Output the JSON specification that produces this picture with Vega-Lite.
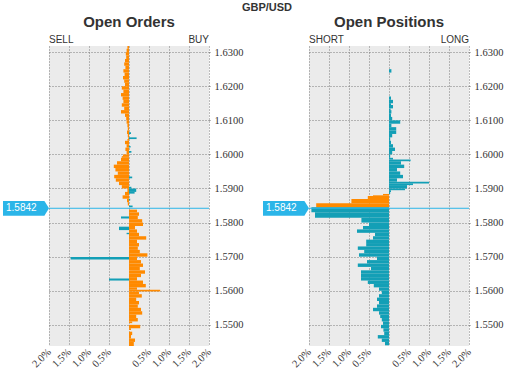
{
  "$schema": "https://vega.github.io/schema/vega-lite/v6.json",
  "padding": {"left": 3, "top": 2, "right": 5, "bottom": 0},
  "background": "white",
  "title": {"text": "GBP/USD", "fontSize": 11, "fontWeight": "bold", "font": "Liberation Sans", "color": "#333333", "anchor": "middle", "offset": 2, "dx": 14},
  "datasets": {
    "orders": [
      {"lo":1.6310,"hi":1.6318,"v":-0.04,"c":"o"},{"lo":1.6300,"hi":1.6310,"v":-0.06,"c":"o"},{"lo":1.6290,"hi":1.6300,"v":-0.08,"c":"o"},{"lo":1.6280,"hi":1.6290,"v":-0.07,"c":"o"},
      {"lo":1.6270,"hi":1.6280,"v":-0.10,"c":"o"},{"lo":1.6260,"hi":1.6270,"v":-0.12,"c":"o"},{"lo":1.6250,"hi":1.6260,"v":-0.09,"c":"o"},{"lo":1.6240,"hi":1.6250,"v":-0.14,"c":"o"},
      {"lo":1.6230,"hi":1.6240,"v":-0.11,"c":"o"},{"lo":1.6220,"hi":1.6230,"v":-0.15,"c":"o"},{"lo":1.6210,"hi":1.6220,"v":-0.12,"c":"o"},{"lo":1.6200,"hi":1.6210,"v":-0.10,"c":"o"},
      {"lo":1.6190,"hi":1.6200,"v":-0.18,"c":"o"},{"lo":1.6180,"hi":1.6190,"v":-0.14,"c":"o"},{"lo":1.6170,"hi":1.6180,"v":-0.20,"c":"o"},{"lo":1.6160,"hi":1.6170,"v":-0.16,"c":"o"},
      {"lo":1.6150,"hi":1.6160,"v":-0.14,"c":"o"},{"lo":1.6140,"hi":1.6150,"v":-0.18,"c":"o"},{"lo":1.6130,"hi":1.6140,"v":-0.12,"c":"o"},{"lo":1.6120,"hi":1.6130,"v":-0.20,"c":"o"},
      {"lo":1.6110,"hi":1.6120,"v":-0.10,"c":"o"},{"lo":1.6100,"hi":1.6110,"v":-0.07,"c":"o"},{"lo":1.6090,"hi":1.6100,"v":-0.06,"c":"o"},{"lo":1.6080,"hi":1.6090,"v":-0.04,"c":"o"},
      {"lo":1.6070,"hi":1.6080,"v":-0.03,"c":"o"},{"lo":1.6060,"hi":1.6070,"v":-0.05,"c":"o"},{"lo":1.6050,"hi":1.6060,"v":-0.03,"c":"o"},{"lo":1.6045,"hi":1.6050,"v":-0.02,"c":"o"},
      {"lo":1.6040,"hi":1.6045,"v":-0.04,"c":"o"},{"lo":1.6030,"hi":1.6040,"v":-0.10,"c":"o"},{"lo":1.6020,"hi":1.6030,"v":-0.06,"c":"o"},{"lo":1.6010,"hi":1.6020,"v":-0.09,"c":"o"},
      {"lo":1.6000,"hi":1.6010,"v":-0.06,"c":"o"},{"lo":1.5995,"hi":1.6000,"v":-0.15,"c":"o"},{"lo":1.5990,"hi":1.5995,"v":-0.18,"c":"o"},{"lo":1.5980,"hi":1.5990,"v":-0.20,"c":"o"},
      {"lo":1.5970,"hi":1.5980,"v":-0.30,"c":"o"},{"lo":1.5960,"hi":1.5970,"v":-0.38,"c":"o"},{"lo":1.5950,"hi":1.5960,"v":-0.34,"c":"o"},{"lo":1.5940,"hi":1.5950,"v":-0.28,"c":"o"},
      {"lo":1.5930,"hi":1.5940,"v":-0.37,"c":"o"},{"lo":1.5920,"hi":1.5930,"v":-0.33,"c":"o"},{"lo":1.5910,"hi":1.5920,"v":-0.25,"c":"o"},{"lo":1.5900,"hi":1.5910,"v":-0.18,"c":"o"},
      {"lo":1.5890,"hi":1.5900,"v":-0.04,"c":"o"},{"lo":1.5880,"hi":1.5890,"v":-0.10,"c":"o"},{"lo":1.5870,"hi":1.5880,"v":-0.16,"c":"o"},{"lo":1.5860,"hi":1.5870,"v":-0.05,"c":"o"},
      {"lo":1.5850,"hi":1.5860,"v":-0.03,"c":"o"},
      {"lo":1.6060,"hi":1.6065,"v":0.05,"c":"t"},{"lo":1.6045,"hi":1.6050,"v":0.19,"c":"t"},{"lo":1.6020,"hi":1.6025,"v":0.04,"c":"t"},{"lo":1.6005,"hi":1.6010,"v":0.06,"c":"t"},
      {"lo":1.5930,"hi":1.5935,"v":0.08,"c":"t"},{"lo":1.5900,"hi":1.5905,"v":0.06,"c":"t"},{"lo":1.5890,"hi":1.5900,"v":0.18,"c":"t"},{"lo":1.5885,"hi":1.5890,"v":0.14,"c":"t"},
      {"lo":1.5865,"hi":1.5870,"v":0.03,"c":"t"},{"lo":1.5845,"hi":1.5850,"v":0.09,"c":"t"},
      {"lo":1.5830,"hi":1.5838,"v":0.20,"c":"o"},{"lo":1.5820,"hi":1.5830,"v":0.25,"c":"o"},{"lo":1.5810,"hi":1.5820,"v":0.22,"c":"o"},{"lo":1.5800,"hi":1.5810,"v":0.33,"c":"o"},
      {"lo":1.5790,"hi":1.5800,"v":0.35,"c":"o"},{"lo":1.5780,"hi":1.5790,"v":0.15,"c":"o"},{"lo":1.5770,"hi":1.5780,"v":0.20,"c":"o"},{"lo":1.5760,"hi":1.5770,"v":0.25,"c":"o"},
      {"lo":1.5750,"hi":1.5760,"v":0.43,"c":"o"},{"lo":1.5740,"hi":1.5750,"v":0.20,"c":"o"},{"lo":1.5730,"hi":1.5740,"v":0.25,"c":"o"},{"lo":1.5720,"hi":1.5730,"v":0.22,"c":"o"},
      {"lo":1.5710,"hi":1.5720,"v":0.27,"c":"o"},{"lo":1.5700,"hi":1.5710,"v":0.46,"c":"o"},{"lo":1.5690,"hi":1.5700,"v":0.20,"c":"o"},{"lo":1.5680,"hi":1.5690,"v":0.30,"c":"o"},
      {"lo":1.5670,"hi":1.5680,"v":0.35,"c":"o"},{"lo":1.5660,"hi":1.5670,"v":0.27,"c":"o"},{"lo":1.5650,"hi":1.5660,"v":0.40,"c":"o"},{"lo":1.5640,"hi":1.5650,"v":0.30,"c":"o"},
      {"lo":1.5630,"hi":1.5640,"v":0.20,"c":"o"},{"lo":1.5620,"hi":1.5630,"v":0.35,"c":"o"},{"lo":1.5610,"hi":1.5620,"v":0.42,"c":"o"},{"lo":1.5603,"hi":1.5610,"v":0.20,"c":"o"},
      {"lo":1.5598,"hi":1.5603,"v":0.78,"c":"o"},{"lo":1.5590,"hi":1.5598,"v":0.25,"c":"o"},{"lo":1.5580,"hi":1.5590,"v":0.32,"c":"o"},{"lo":1.5570,"hi":1.5580,"v":0.18,"c":"o"},
      {"lo":1.5560,"hi":1.5570,"v":0.25,"c":"o"},{"lo":1.5550,"hi":1.5560,"v":0.22,"c":"o"},{"lo":1.5540,"hi":1.5550,"v":0.30,"c":"o"},{"lo":1.5530,"hi":1.5540,"v":0.33,"c":"o"},
      {"lo":1.5520,"hi":1.5530,"v":0.18,"c":"o"},{"lo":1.5510,"hi":1.5520,"v":0.22,"c":"o"},{"lo":1.5505,"hi":1.5510,"v":0.08,"c":"o"},{"lo":1.5490,"hi":1.5500,"v":0.28,"c":"o"},
      {"lo":1.5485,"hi":1.5490,"v":0.05,"c":"o"},{"lo":1.5470,"hi":1.5480,"v":0.08,"c":"o"},{"lo":1.5460,"hi":1.5470,"v":0.05,"c":"o"},{"lo":1.5450,"hi":1.5460,"v":0.15,"c":"o"},
      {"lo":1.5438,"hi":1.5450,"v":0.12,"c":"o"},
      {"lo":1.5812,"hi":1.5818,"v":-0.20,"c":"t"},{"lo":1.5778,"hi":1.5788,"v":-0.25,"c":"t"},{"lo":1.5766,"hi":1.5770,"v":-0.06,"c":"t"},{"lo":1.5692,"hi":1.5699,"v":-1.46,"c":"t"},
      {"lo":1.5630,"hi":1.5636,"v":-0.50,"c":"t"}
    ],
    "positions": [
      {"lo":1.6240,"hi":1.6250,"v":0.06,"c":"t"},
      {"lo":1.6160,"hi":1.6170,"v":0.05,"c":"t"},{"lo":1.6150,"hi":1.6160,"v":0.10,"c":"t"},{"lo":1.6145,"hi":1.6150,"v":0.05,"c":"t"},{"lo":1.6135,"hi":1.6145,"v":0.10,"c":"t"},
      {"lo":1.6130,"hi":1.6135,"v":0.04,"c":"t"},{"lo":1.6120,"hi":1.6130,"v":0.06,"c":"t"},{"lo":1.6110,"hi":1.6120,"v":0.05,"c":"t"},{"lo":1.6100,"hi":1.6110,"v":0.08,"c":"t"},
      {"lo":1.6090,"hi":1.6100,"v":0.28,"c":"t"},{"lo":1.6080,"hi":1.6090,"v":0.06,"c":"t"},{"lo":1.6070,"hi":1.6080,"v":0.18,"c":"t"},{"lo":1.6060,"hi":1.6070,"v":0.18,"c":"t"},
      {"lo":1.6050,"hi":1.6060,"v":0.08,"c":"t"},{"lo":1.6040,"hi":1.6050,"v":0.03,"c":"t"},{"lo":1.6030,"hi":1.6040,"v":0.05,"c":"t"},{"lo":1.6020,"hi":1.6030,"v":0.10,"c":"t"},
      {"lo":1.6010,"hi":1.6020,"v":0.15,"c":"t"},{"lo":1.6000,"hi":1.6010,"v":0.08,"c":"t"},{"lo":1.5990,"hi":1.6000,"v":0.03,"c":"t"},{"lo":1.5985,"hi":1.5990,"v":0.10,"c":"t"},
      {"lo":1.5980,"hi":1.5985,"v":0.54,"c":"t"},{"lo":1.5970,"hi":1.5980,"v":0.30,"c":"t"},{"lo":1.5960,"hi":1.5970,"v":0.38,"c":"t"},{"lo":1.5950,"hi":1.5960,"v":0.20,"c":"t"},
      {"lo":1.5940,"hi":1.5950,"v":0.28,"c":"t"},{"lo":1.5930,"hi":1.5940,"v":0.35,"c":"t"},{"lo":1.5920,"hi":1.5930,"v":0.20,"c":"t"},{"lo":1.5915,"hi":1.5920,"v":1.00,"c":"t"},
      {"lo":1.5910,"hi":1.5915,"v":0.60,"c":"t"},{"lo":1.5900,"hi":1.5910,"v":0.45,"c":"t"},{"lo":1.5895,"hi":1.5900,"v":0.40,"c":"t"},{"lo":1.5890,"hi":1.5895,"v":0.05,"c":"t"},
      {"lo":1.5884,"hi":1.5890,"v":0.03,"c":"t"},
      {"lo":1.5880,"hi":1.5884,"v":-0.15,"c":"o"},{"lo":1.5878,"hi":1.5880,"v":-0.40,"c":"o"},{"lo":1.5869,"hi":1.5878,"v":-0.53,"c":"o"},{"lo":1.5857,"hi":1.5869,"v":-0.94,"c":"o"},
      {"lo":1.5845,"hi":1.5857,"v":-1.82,"c":"o"},
      {"lo":1.5830,"hi":1.5845,"v":-1.94,"c":"t"},{"lo":1.5814,"hi":1.5830,"v":-1.85,"c":"t"},{"lo":1.5800,"hi":1.5814,"v":-0.69,"c":"t"},{"lo":1.5790,"hi":1.5800,"v":-0.50,"c":"t"},
      {"lo":1.5780,"hi":1.5790,"v":-0.65,"c":"t"},{"lo":1.5770,"hi":1.5780,"v":-0.80,"c":"t"},{"lo":1.5760,"hi":1.5770,"v":-0.35,"c":"t"},{"lo":1.5750,"hi":1.5760,"v":-0.40,"c":"t"},
      {"lo":1.5740,"hi":1.5750,"v":-0.57,"c":"t"},{"lo":1.5730,"hi":1.5740,"v":-0.57,"c":"t"},{"lo":1.5720,"hi":1.5730,"v":-0.78,"c":"t"},{"lo":1.5710,"hi":1.5720,"v":-0.62,"c":"t"},
      {"lo":1.5700,"hi":1.5710,"v":-0.75,"c":"t"},{"lo":1.5690,"hi":1.5700,"v":-0.30,"c":"t"},{"lo":1.5680,"hi":1.5690,"v":-0.55,"c":"t"},{"lo":1.5670,"hi":1.5680,"v":-0.78,"c":"t"},
      {"lo":1.5660,"hi":1.5670,"v":-0.45,"c":"t"},{"lo":1.5650,"hi":1.5660,"v":-0.70,"c":"t"},{"lo":1.5640,"hi":1.5650,"v":-0.70,"c":"t"},{"lo":1.5630,"hi":1.5640,"v":-0.70,"c":"t"},
      {"lo":1.5620,"hi":1.5630,"v":-0.53,"c":"t"},{"lo":1.5610,"hi":1.5620,"v":-0.38,"c":"t"},{"lo":1.5600,"hi":1.5610,"v":-0.25,"c":"t"},{"lo":1.5590,"hi":1.5600,"v":-0.18,"c":"t"},
      {"lo":1.5580,"hi":1.5590,"v":-0.25,"c":"t"},{"lo":1.5570,"hi":1.5580,"v":-0.30,"c":"t"},{"lo":1.5560,"hi":1.5570,"v":-0.25,"c":"t"},{"lo":1.5550,"hi":1.5560,"v":-0.30,"c":"t"},
      {"lo":1.5540,"hi":1.5550,"v":-0.40,"c":"t"},{"lo":1.5530,"hi":1.5540,"v":-0.25,"c":"t"},{"lo":1.5520,"hi":1.5530,"v":-0.22,"c":"t"},{"lo":1.5510,"hi":1.5520,"v":-0.18,"c":"t"},
      {"lo":1.5500,"hi":1.5510,"v":-0.15,"c":"t"},{"lo":1.5490,"hi":1.5500,"v":-0.20,"c":"t"},{"lo":1.5480,"hi":1.5490,"v":-0.14,"c":"t"},{"lo":1.5470,"hi":1.5480,"v":-0.12,"c":"t"},
      {"lo":1.5460,"hi":1.5470,"v":-0.28,"c":"t"},{"lo":1.5450,"hi":1.5460,"v":-0.18,"c":"t"},{"lo":1.5440,"hi":1.5450,"v":-0.10,"c":"t"}
    ]
  },
  "spacing": 100,
  "bounds": "flush",
  "hconcat": [
    {
      "width": 160, "height": 300,
      "title": {"text": "Open Orders", "fontSize": 15, "fontWeight": "bold", "font": "Liberation Sans", "color": "#333333", "frame": "group", "anchor": "middle", "offset": 5},
      "layer": [
        {
          "data": {"name": "orders"},
          "mark": {"type": "bar"},
          "encoding": {
            "x": {"field": "v", "type": "quantitative", "scale": {"domain": [-2, 2], "nice": false},
                  "axis": {"title": null, "values": [-2, -1.5, -1, -0.5, 0, 0.5, 1, 1.5, 2], "tickCount": 20, "labelExpr": "datum.value == 0 ? '' : format(abs(datum.value), '.1f') + '%'", "labelAngle": -45, "labelAlign": "right", "labelBaseline": "middle", "domain": false, "ticks": false, "labelPadding": 4, "labelOverlap": false, "labelBound": false}},
            "x2": {"datum": 0},
            "y": {"field": "lo", "type": "quantitative", "scale": {"domain": [1.5438, 1.6318], "nice": false, "zero": false},
                  "axis": {"title": null, "orient": "right", "values": [1.55, 1.56, 1.57, 1.58, 1.59, 1.6, 1.61, 1.62, 1.63], "tickCount": 20, "format": ".4f", "domain": false, "labelOverlap": false, "labelBound": false}},
            "y2": {"field": "hi"},
            "color": {"field": "c", "type": "nominal", "scale": {"domain": ["o", "t"], "range": ["#FF8A00", "#139FB6"]}, "legend": null}
          }
        },
        {
          "data": {"values": [{}]},
          "mark": {"type": "rule", "color": "#2BB5E8", "strokeWidth": 1},
          "encoding": {"y": {"datum": 1.5842, "type": "quantitative"}}
        },
        {
          "data": {"values": [{}]},
          "mark": {"type": "point", "shape": "M0,0L-0.1,-0.16L-1,-0.16L-1,0.16L-0.1,0.16Z", "filled": true, "size": 8464, "color": "#2BB5E8", "opacity": 1, "strokeWidth": 0},
          "encoding": {"x": {"datum": -2, "type": "quantitative"}, "y": {"datum": 1.5842, "type": "quantitative"}}
        },
        {
          "data": {"values": [{}]},
          "mark": {"type": "text", "text": "1.5842", "align": "left", "baseline": "middle", "dx": -43, "color": "white", "fontSize": 10, "font": "Liberation Sans"},
          "encoding": {"x": {"datum": -2, "type": "quantitative"}, "y": {"datum": 1.5842, "type": "quantitative"}}
        },
        {
          "data": {"values": [{}]},
          "mark": {"type": "text", "text": "SELL", "align": "left", "baseline": "alphabetic", "dy": -3, "color": "#333333", "fontSize": 10, "font": "Liberation Sans"},
          "encoding": {"x": {"datum": -2, "type": "quantitative"}, "y": {"datum": 1.6318, "type": "quantitative"}}
        },
        {
          "data": {"values": [{}]},
          "mark": {"type": "text", "text": "BUY", "align": "right", "baseline": "alphabetic", "dy": -3, "color": "#333333", "fontSize": 10, "font": "Liberation Sans"},
          "encoding": {"x": {"datum": 2, "type": "quantitative"}, "y": {"datum": 1.6318, "type": "quantitative"}}
        }
      ]
    },
    {
      "width": 160, "height": 300,
      "title": {"text": "Open Positions", "fontSize": 15, "fontWeight": "bold", "font": "Liberation Sans", "color": "#333333", "frame": "group", "anchor": "middle", "offset": 5},
      "layer": [
        {
          "data": {"name": "positions"},
          "mark": {"type": "bar"},
          "encoding": {
            "x": {"field": "v", "type": "quantitative", "scale": {"domain": [-2, 2], "nice": false},
                  "axis": {"title": null, "values": [-2, -1.5, -1, -0.5, 0, 0.5, 1, 1.5, 2], "tickCount": 20, "labelExpr": "datum.value == 0 ? '' : format(abs(datum.value), '.1f') + '%'", "labelAngle": -45, "labelAlign": "right", "labelBaseline": "middle", "domain": false, "ticks": false, "labelPadding": 4, "labelOverlap": false, "labelBound": false}},
            "x2": {"datum": 0},
            "y": {"field": "lo", "type": "quantitative", "scale": {"domain": [1.5438, 1.6318], "nice": false, "zero": false},
                  "axis": {"title": null, "orient": "right", "values": [1.55, 1.56, 1.57, 1.58, 1.59, 1.6, 1.61, 1.62, 1.63], "tickCount": 20, "format": ".4f", "domain": false, "labelOverlap": false, "labelBound": false}},
            "y2": {"field": "hi"},
            "color": {"field": "c", "type": "nominal", "scale": {"domain": ["o", "t"], "range": ["#FF8A00", "#139FB6"]}, "legend": null}
          }
        },
        {
          "data": {"values": [{}]},
          "mark": {"type": "rule", "color": "#2BB5E8", "strokeWidth": 1},
          "encoding": {"y": {"datum": 1.5842, "type": "quantitative"}}
        },
        {
          "data": {"values": [{}]},
          "mark": {"type": "point", "shape": "M0,0L-0.1,-0.16L-1,-0.16L-1,0.16L-0.1,0.16Z", "filled": true, "size": 8464, "color": "#2BB5E8", "opacity": 1, "strokeWidth": 0},
          "encoding": {"x": {"datum": -2, "type": "quantitative"}, "y": {"datum": 1.5842, "type": "quantitative"}}
        },
        {
          "data": {"values": [{}]},
          "mark": {"type": "text", "text": "1.5842", "align": "left", "baseline": "middle", "dx": -43, "color": "white", "fontSize": 10, "font": "Liberation Sans"},
          "encoding": {"x": {"datum": -2, "type": "quantitative"}, "y": {"datum": 1.5842, "type": "quantitative"}}
        },
        {
          "data": {"values": [{}]},
          "mark": {"type": "text", "text": "SHORT", "align": "left", "baseline": "alphabetic", "dy": -3, "color": "#333333", "fontSize": 10, "font": "Liberation Sans"},
          "encoding": {"x": {"datum": -2, "type": "quantitative"}, "y": {"datum": 1.6318, "type": "quantitative"}}
        },
        {
          "data": {"values": [{}]},
          "mark": {"type": "text", "text": "LONG", "align": "right", "baseline": "alphabetic", "dy": -3, "color": "#333333", "fontSize": 10, "font": "Liberation Sans"},
          "encoding": {"x": {"datum": 2, "type": "quantitative"}, "y": {"datum": 1.6318, "type": "quantitative"}}
        }
      ]
    }
  ],
  "config": {
    "view": {"fill": "#EBEBEB", "stroke": null},
    "axis": {
      "labelFont": "Liberation Sans Narrow",
      "labelFontSize": 10.5,
      "labelColor": "#333333",
      "gridColor": "#7A7A7A",
      "gridDash": [1, 2],
      "gridOpacity": 1,
      "tickColor": "#7A7A7A",
      "tickDash": [1, 2],
      "tickSize": 3,
      "labelPadding": 2
    }
  }
}
